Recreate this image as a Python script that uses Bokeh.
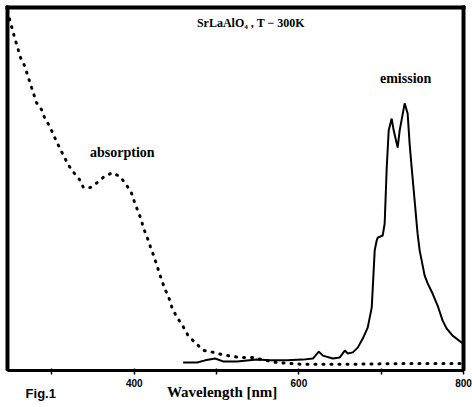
from bokeh.plotting import figure
from bokeh.models import Label, FixedTicker, Range1d, LinearAxis
from bokeh.embed import file_html
from bokeh.resources import INLINE

# Absorption spectrum (dotted), wavelength in nm, intensity in arbitrary units
abs_wl = [246.0, 247.3, 253.3, 261.8, 266.7, 275.2, 281.2, 287.3, 290.9, 295.8, 300.6,
          305.5, 310.3, 315.2, 321.2, 327.3, 334.5, 338.2, 346.7, 355.2, 362.4, 373.3,
          383.0, 390.3, 396.4, 400.0, 403.6, 408.5, 410.9, 415.8, 419.4, 423.0, 426.7,
          430.3, 433.9, 437.6, 442.4, 446.1, 452.1, 459.4, 465.5, 475.2, 484.8, 495.8,
          506.7, 518.8, 528.5, 543.0, 555.2, 573.3, 604.8, 655.8, 722.4, 800.0]
abs_val = [99.0, 97.8, 92.8, 86.2, 84.0, 78.0, 73.8, 71.9, 69.7, 67.8, 65.6,
           63.1, 60.9, 58.7, 56.2, 54.3, 52.3, 50.4, 50.4, 51.8, 53.2, 54.5,
           53.4, 51.2, 49.0, 46.6, 44.4, 41.6, 39.4, 36.6, 34.2, 32.0, 29.5,
           27.0, 24.5, 22.3, 19.8, 17.1, 14.6, 12.1, 9.6, 7.4, 5.5, 5.0,
           4.4, 3.9, 3.6, 3.6, 3.0, 2.2, 1.7, 1.7, 1.9, 1.9]

# Emission spectrum (solid)
em_wl = [459.4, 476.4, 486.1, 498.2, 507.9, 524.8, 549.1, 564.8, 585.5, 604.8, 617.0,
         624.2, 629.1, 641.2, 649.7, 655.8, 659.4, 665.5, 671.5, 677.6, 683.6, 688.5,
         692.1, 694.5, 695.8, 701.8, 704.2, 706.7, 709.1, 712.7, 715.2, 720.0, 722.4,
         728.5, 732.1, 734.5, 737.0, 740.6, 744.2, 746.7, 752.7, 756.4, 762.4, 768.5,
         774.5, 779.4, 786.7, 797.6, 800.0]
em_val = [2.2, 2.2, 2.8, 3.3, 2.5, 2.5, 3.0, 2.8, 2.8, 3.0, 3.3,
          5.2, 4.1, 3.3, 3.6, 5.5, 4.7, 5.0, 6.3, 8.8, 11.8, 17.4,
          33.1, 35.8, 36.6, 37.2, 40.5, 55.9, 66.1, 69.4, 66.1, 61.4, 66.1,
          73.6, 70.8, 62.5, 55.9, 46.8, 37.7, 33.1, 26.2, 24.0, 21.2, 17.9,
          13.8, 11.6, 9.6, 7.7, 7.4]

x_lo, x_hi = 246.0, 800.0
y_lo, y_hi = 0.0, 100.0
major_ticks = [300, 400, 500, 600, 700, 800]
tick_labels = {300: "", 400: "400", 500: "", 600: "600", 700: "", 800: "800"}

# half thickness of the frame border, in data units (~1.5 px each way)
hw_x, hw_y = 1.8, 0.42

p = figure(width=472, height=407, output_backend="svg", toolbar_location=None,
           x_range=Range1d(237.5, 810.9), y_range=Range1d(-10.19, 101.93),
           min_border_left=0, min_border_right=0, min_border_top=0, min_border_bottom=0)
p.yaxis.visible = False
p.xgrid.visible = False
p.ygrid.visible = False
p.outline_line_color = None
p.background_fill_color = "white"
p.border_fill_color = "white"

ax = p.xaxis[0]
ax.fixed_location = y_lo
ax.bounds = (x_lo, x_hi)
ax.ticker = FixedTicker(ticks=major_ticks)
ax.major_label_overrides = tick_labels
ax.axis_line_width = 3
ax.axis_line_color = "black"
ax.major_tick_line_width = 1.5
ax.major_tick_out = 4
ax.major_tick_in = 2
ax.minor_tick_line_color = None
ax.major_label_standoff = 4
ax.major_label_text_font = "Liberation Sans"
ax.major_label_text_font_style = "bold"
ax.major_label_text_font_size = "10px"
ax.major_label_text_color = "black"

# frame box edges drawn as bare axis lines (no ticks, no labels)
def frame_axis(loc, bnds):
    return LinearAxis(fixed_location=loc, bounds=bnds, ticker=FixedTicker(ticks=[]),
                      axis_line_width=3, axis_line_color="black",
                      major_tick_line_color=None, minor_tick_line_color=None)

p.add_layout(frame_axis(x_lo, (y_lo, y_hi)), "left")
p.add_layout(frame_axis(x_hi, (y_lo, y_hi)), "right")
p.add_layout(frame_axis(y_hi, (x_lo, x_hi)), "above")

# the same frame edges as filled bars and as a polyline
p.quad(left=[x_lo - hw_x, x_lo - hw_x, x_hi - hw_x],
       right=[x_lo + hw_x, x_hi + hw_x, x_hi + hw_x],
       bottom=[y_lo, y_hi - hw_y, y_lo],
       top=[y_hi + hw_y, y_hi + hw_y, y_hi + hw_y],
       fill_color="black", line_color="black", line_width=1)
p.multi_line(xs=[[x_lo, x_lo, x_hi, x_hi]], ys=[[y_lo, y_hi, y_hi, y_lo]],
             line_color="black", line_width=3)

p.line(abs_wl, abs_val, line_color="black", line_width=3, line_dash="1 7", line_cap="round")
p.line(em_wl, em_val, line_color="black", line_width=2)

p.add_layout(Label(x=541.8, y=95.6, text="SrLaAlO\u2084 , T \u2212 300K", text_align="center",
                   text_baseline="middle", text_font="Liberation Serif", text_font_style="bold",
                   text_font_size="12px", text_color="black"))
p.add_layout(Label(x=385.5, y=60.0, text="absorption", text_align="center",
                   text_baseline="middle", text_font="Liberation Serif", text_font_style="bold",
                   text_font_size="14px", text_color="black"))
p.add_layout(Label(x=729.7, y=80.4, text="emission", text_align="center",
                   text_baseline="middle", text_font="Liberation Serif", text_font_style="bold",
                   text_font_size="14px", text_color="black"))
p.add_layout(Label(x=268.0, y=-6.2, text="Fig.1", text_align="left",
                   text_baseline="middle", text_font="Liberation Sans", text_font_style="bold",
                   text_font_size="13px", text_color="black"))
p.add_layout(Label(x=506.7, y=-5.8, text="Wavelength [nm]", text_align="center",
                   text_baseline="middle", text_font="Liberation Serif", text_font_style="bold",
                   text_font_size="15px", text_color="black"))

open("out.html", "w").write(file_html(p, INLINE))
